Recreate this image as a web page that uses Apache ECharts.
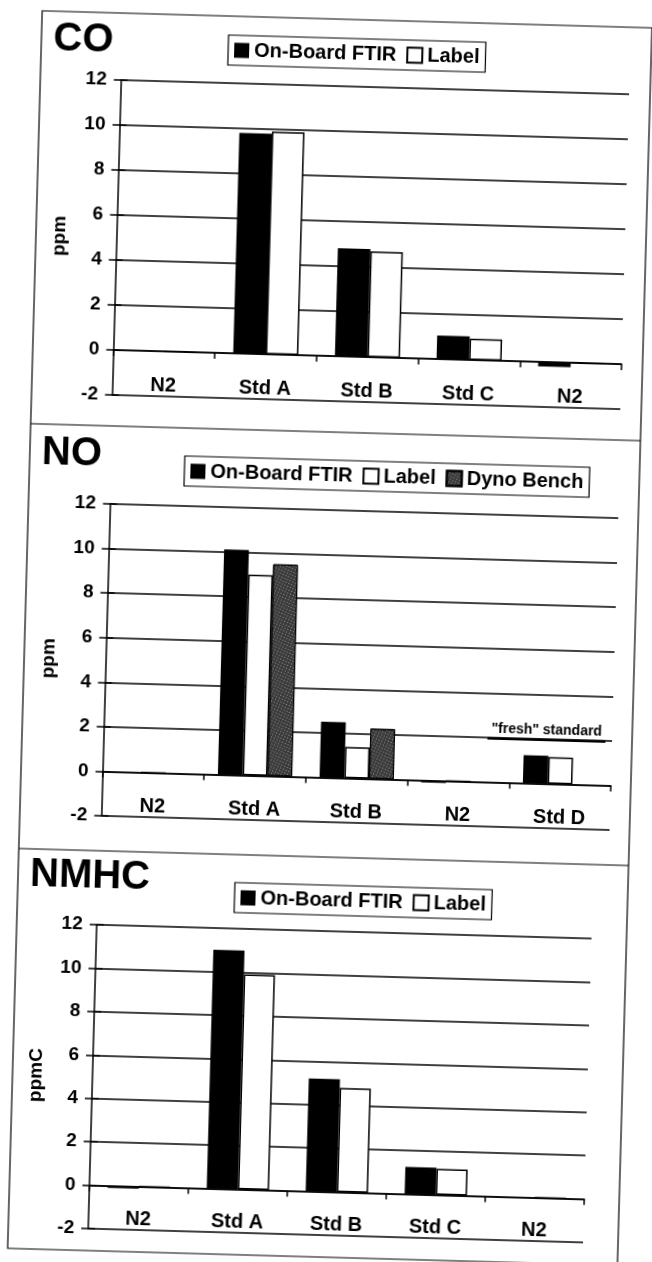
<!DOCTYPE html>
<html><head><meta charset="utf-8">
<script src="https://cdn.jsdelivr.net/npm/echarts@6/dist/echarts.min.js"></script>
<style>
html,body{margin:0;padding:0;background:#fff;overflow:hidden;}
#c{width:652px;height:1262px;transform:rotate(1.6deg);transform-origin:326px 631px;}
</style></head><body><div id="c"></div>
<script>
// ---- data ----
const coCategories = ['N2', 'Std A', 'Std B', 'Std C', 'N2'];
const coFtir = [0, 9.8, 4.8, 1.05, -0.2];
const coLabel = [0, 9.9, 4.7, 0.95, 0];

const noCategories = ['N2', 'Std A', 'Std B', 'N2', 'Std D'];
const noFtir = [0, 10.1, 2.5, -0.1, 1.25];
const noLabel = [0, 9.0, 1.4, 0, 1.2];
const noDyno = [null, 9.5, 2.25, null, null];

const nmhcCategories = ['N2', 'Std A', 'Std B', 'Std C', 'N2'];
const nmhcFtir = [-0.1, 11.0, 5.2, 1.25, 0];
const nmhcLabel = [0, 9.9, 4.8, 1.2, 0];

const yMin = -2, yMax = 12, yStep = 2;
const panelTitles = ['CO', 'NO', 'NMHC'];
const yNames = ['ppm', 'ppm', 'ppmC'];
const seriesNames = ['On-Board FTIR', 'Label', 'Dyno Bench'];
const freshNote = '"fresh" standard';
const freshAt = ['Std D', 2];

// ---- styles ----
const FONT = '"Liberation Sans", Arial, sans-serif';
const ink = '#000';
const grids = [
  {left: 105.5, top: 86, width: 508.5, height: 315},
  {left: 106.5, top: 510, width: 508.5, height: 312},
  {left: 105, top: 931, width: 495, height: 304}
];
const gaps = ['36%', '27%', '37%'];
const cats = [coCategories, noCategories, nmhcCategories];

const styleFtir = {color: ink};
const styleLabel = {color: '#fff', borderColor: ink, borderWidth: 1.5};
const styleDyno = {color: '#3a3a3a', borderColor: ink, borderWidth: 1, decal: {symbol: 'rect', symbolSize: 1, color: 'rgba(255,255,255,0.5)', dashArrayX: [1, 2], dashArrayY: [1, 2], rotation: 0.4}};

const mainY = grids.map((g, i) => ({
  type: 'value', gridIndex: i, min: yMin, max: yMax, interval: yStep,
  axisLine: {show: true, lineStyle: {color: ink, width: 1.5}},
  axisTick: {show: true, length: 7, lineStyle: {color: ink, width: 1.5}},
  axisLabel: {fontSize: 19, fontWeight: 'bold', color: ink, margin: 14, fontFamily: FONT},
  splitLine: {show: true, lineStyle: {color: ink, width: 1.5}},
  name: yNames[i], nameLocation: 'middle', nameGap: 47,
  nameTextStyle: {fontSize: 19, fontWeight: 'bold', color: ink, fontFamily: FONT}
}));
const innerY = grids.map((g, i) => ({
  type: 'value', gridIndex: i, min: yMin, max: yMax, interval: yStep, position: 'left',
  axisLine: {show: false}, axisLabel: {show: false}, splitLine: {show: false},
  axisTick: {show: true, inside: true, length: 7, lineStyle: {color: ink, width: 1.5}}
}));
const xAxes = grids.map((g, i) => ({
  type: 'category', gridIndex: i, data: cats[i],
  axisLine: {show: true, onZero: true, onZeroAxisIndex: i, lineStyle: {color: ink, width: 1.5}},
  axisTick: {show: true, length: 6, lineStyle: {color: ink, width: 1.5}},
  axisLabel: {interval: 0, margin: -21, fontSize: 20, fontWeight: 'bold', color: ink, fontFamily: FONT},
  splitLine: {show: false}
}));

function bar(name, data, idx, style, extra) {
  return Object.assign({
    type: 'bar', name: name, data: data, xAxisIndex: idx, yAxisIndex: idx,
    barGap: '0%', barCategoryGap: gaps[idx], itemStyle: style
  }, extra || {});
}

const legendBase = {
  orient: 'horizontal', icon: 'rect', itemWidth: 15, itemHeight: 15, itemGap: 10,
  borderColor: ink, borderWidth: 1.2, padding: [5, 6], backgroundColor: '#fff',
  textStyle: {fontSize: 20, fontWeight: 'bold', color: ink, fontFamily: FONT}
};

const option = {
  animation: false,
  backgroundColor: '#fff',
  title: panelTitles.map((t, i) => ({
    text: t, left: 37, top: [27, 441, 863][i], padding: 0,
    textStyle: {fontSize: 40, fontWeight: 'bold', color: ink, fontFamily: FONT}
  })),
  legend: [
    Object.assign({}, legendBase, {data: [seriesNames[0], seriesNames[1]], left: 212, top: 38}),
    Object.assign({}, legendBase, {data: [seriesNames[0], seriesNames[1], seriesNames[2]], left: 180, top: 460}),
    Object.assign({}, legendBase, {data: [seriesNames[0], seriesNames[1]], left: 242, top: 885})
  ],
  grid: grids,
  xAxis: xAxes,
  yAxis: mainY.concat(innerY),
  graphic: [
    {type: 'rect', silent: true, shape: {x: 25, y: 19, width: 610, height: 1238}, style: {fill: null, stroke: ink, lineWidth: 1.2}},
    {type: 'line', silent: true, shape: {x1: 25, y1: 432, x2: 635, y2: 432}, style: {stroke: ink, lineWidth: 1.2}},
    {type: 'line', silent: true, shape: {x1: 25, y1: 857, x2: 635, y2: 857}, style: {stroke: ink, lineWidth: 1.2}}
  ],
  series: [
    bar(seriesNames[0], coFtir, 0, styleFtir),
    bar(seriesNames[1], coLabel, 0, styleLabel),
    bar(seriesNames[0], noFtir, 1, styleFtir, {
      markPoint: {
        silent: true, symbol: 'rect', symbolSize: [118, 2.5], symbolOffset: [10, 1],
        itemStyle: {color: ink},
        label: {show: true, position: 'top', distance: 1, formatter: freshNote,
          fontSize: 14, fontWeight: 'bold', color: ink, fontFamily: FONT},
        data: [{coord: freshAt}]
      }
    }),
    bar(seriesNames[1], noLabel, 1, styleLabel),
    bar(seriesNames[2], noDyno, 1, styleDyno),
    bar(seriesNames[0], nmhcFtir, 2, styleFtir),
    bar(seriesNames[1], nmhcLabel, 2, styleLabel)
  ]
};

const chart = echarts.init(document.getElementById('c'), null, {renderer: 'canvas'});
chart.setOption(option);
</script></body></html>
